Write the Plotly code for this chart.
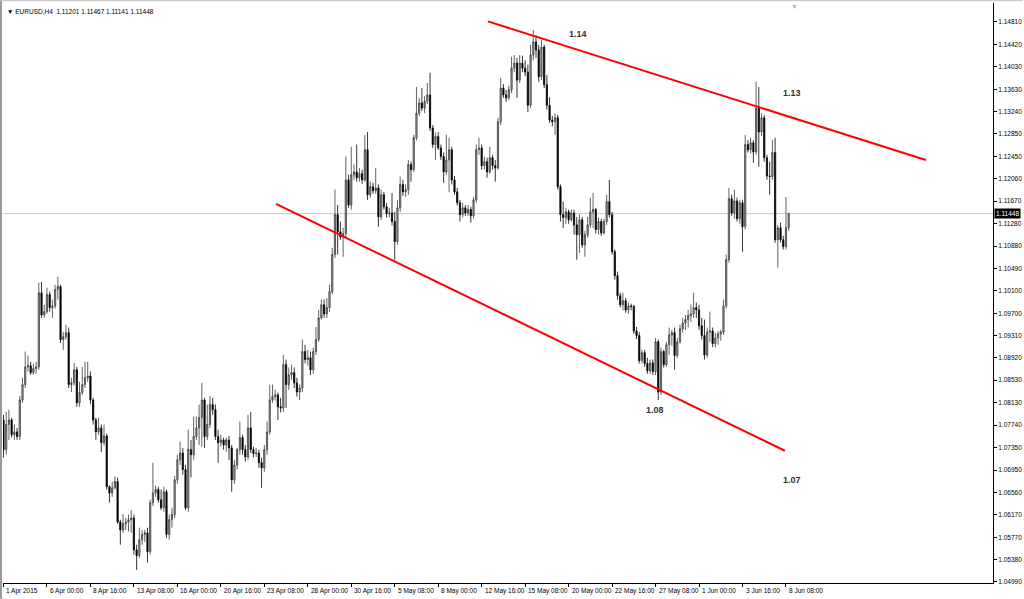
import plotly.graph_objects as go

# ---------------- data (EURUSD, H4) ----------------
opens = [
    1.0783, 1.0731, 1.0775, 1.0783, 1.0757, 1.0762, 1.0754, 1.0818, 1.0845, 1.0876,
    1.0878, 1.0866, 1.0873, 1.0876, 1.1006, 1.0967, 1.0973, 1.1003, 1.0980, 1.0983,
    1.1012, 1.1017, 1.0924, 1.0929, 1.0936, 1.0845, 1.0848, 1.0871, 1.0813, 1.0831,
    1.0845, 1.0857, 1.0860, 1.0818, 1.0783, 1.0762, 1.0769, 1.0743, 1.0755, 1.0666,
    1.0655, 1.0664, 1.0675, 1.0604, 1.0590, 1.0601, 1.0604, 1.0608, 1.0611, 1.0555,
    1.0545, 1.0573, 1.0582, 1.0585, 1.0552, 1.0638, 1.0655, 1.0661, 1.0643, 1.0629,
    1.0657, 1.0582, 1.0608, 1.0617, 1.0678, 1.0713, 1.0725, 1.0696, 1.0629, 1.0731,
    1.0722, 1.0754, 1.0769, 1.0787, 1.0818, 1.0754, 1.0775, 1.0810, 1.0801, 1.0754,
    1.0743, 1.0748, 1.0739, 1.0748, 1.0734, 1.0678, 1.0704, 1.0731, 1.0752, 1.0731,
    1.0718, 1.0769, 1.0731, 1.0724, 1.0725, 1.0708, 1.0699, 1.0731, 1.0762, 1.0818,
    1.0824, 1.0827, 1.0806, 1.0804, 1.0880, 1.0845, 1.0862, 1.0866, 1.0848, 1.0832,
    1.0839, 1.0903, 1.0889, 1.0892, 1.0871, 1.0903, 1.0924, 1.0962, 1.0985, 1.0969,
    1.0980, 1.1008, 1.1073, 1.1143, 1.1113, 1.1104, 1.1110, 1.1204, 1.1160, 1.1213,
    1.1218, 1.1208, 1.1215, 1.1204, 1.1257, 1.1178, 1.1192, 1.1185, 1.1190, 1.1139,
    1.1178, 1.1157, 1.1145, 1.1146, 1.1131, 1.1096, 1.1155, 1.1196, 1.1183, 1.1187,
    1.1231, 1.1222, 1.1278, 1.1321, 1.1339, 1.1330, 1.1342, 1.1353, 1.1295, 1.1266,
    1.1280, 1.1260, 1.1245, 1.1218, 1.1239, 1.1257, 1.1204, 1.1183, 1.1164, 1.1143,
    1.1155, 1.1146, 1.1152, 1.1141, 1.1169, 1.1257, 1.1260, 1.1229, 1.1236, 1.1218,
    1.1243, 1.1229, 1.1225, 1.1306, 1.1365, 1.1353, 1.1348, 1.1362, 1.1400, 1.1409,
    1.1379, 1.1409, 1.1400, 1.1393, 1.1335, 1.1423, 1.1446, 1.1432, 1.1385, 1.1437,
    1.1371, 1.1335, 1.1309, 1.1306, 1.1313, 1.1192, 1.1143, 1.1138, 1.1148, 1.1134,
    1.1146, 1.1125, 1.1108, 1.1134, 1.1090, 1.1108, 1.1125, 1.1148, 1.1152, 1.1117,
    1.1131, 1.1111, 1.1131, 1.1166, 1.1143, 1.1078, 1.1036, 1.1001, 1.0985, 1.0992,
    1.0976, 1.0983, 1.0982, 1.0939, 1.0931, 1.0887, 1.0901, 1.0882, 1.0869, 1.0883,
    1.0868, 1.0920, 1.0832, 1.0903, 1.0880, 1.0915, 1.0932, 1.0936, 1.0896, 1.0920,
    1.0943, 1.0953, 1.0959, 1.0966, 1.0969, 1.0980, 1.0976, 1.0948, 1.0931, 1.0897,
    1.0937, 1.0939, 1.0917, 1.0927, 1.0934, 1.0937, 1.0983, 1.1064, 1.1171, 1.1146,
    1.1167, 1.1136, 1.1164, 1.1122, 1.1266, 1.1257, 1.1269, 1.1253, 1.1330, 1.1288,
    1.1313, 1.1243, 1.1211, 1.1210, 1.1252, 1.1099, 1.1120, 1.1099, 1.1087, 1.11201,
]
highs = [
    1.0792, 1.0797, 1.0801, 1.0787, 1.0775, 1.0769, 1.0825, 1.0857, 1.0903, 1.0896,
    1.0885, 1.0882, 1.0885, 1.1024, 1.1025, 1.0985, 1.1015, 1.1008, 1.0994, 1.1020,
    1.1034, 1.1020, 1.0937, 1.0950, 1.0945, 1.0857, 1.0883, 1.0876, 1.0850, 1.0876,
    1.0885, 1.0885, 1.0868, 1.0822, 1.0787, 1.0787, 1.0775, 1.0775, 1.0759, 1.0668,
    1.0675, 1.0684, 1.0682, 1.0608, 1.0618, 1.0611, 1.0617, 1.0625, 1.0617, 1.0564,
    1.0594, 1.0590, 1.0590, 1.0594, 1.0643, 1.0708, 1.0668, 1.0666, 1.0661, 1.0666,
    1.0661, 1.0617, 1.0629, 1.0685, 1.0722, 1.0745, 1.0734, 1.0704, 1.0766, 1.0748,
    1.0789, 1.0789, 1.0810, 1.0848, 1.0822, 1.0810, 1.0825, 1.0822, 1.0810, 1.0766,
    1.0757, 1.0752, 1.0752, 1.0755, 1.0739, 1.0713, 1.0734, 1.0780, 1.0757, 1.0739,
    1.0792, 1.0797, 1.0736, 1.0734, 1.0731, 1.0717, 1.0739, 1.0780, 1.0845, 1.0845,
    1.0836, 1.0831, 1.0822, 1.0897, 1.0889, 1.0875, 1.0880, 1.0875, 1.0857, 1.0845,
    1.0924, 1.0915, 1.0906, 1.0903, 1.0910, 1.0946, 1.0976, 1.0994, 1.0994, 1.0997,
    1.1020, 1.1085, 1.1187, 1.1160, 1.1131, 1.1120, 1.1245, 1.1213, 1.1262, 1.1231,
    1.1266, 1.1225, 1.1222, 1.1283, 1.1288, 1.1201, 1.1199, 1.1225, 1.1196, 1.1187,
    1.1183, 1.1164, 1.1155, 1.1181, 1.1148, 1.1169, 1.1210, 1.1204, 1.1196, 1.1239,
    1.1236, 1.1283, 1.1367, 1.1348, 1.1365, 1.1351, 1.1374, 1.1392, 1.1300, 1.1287,
    1.1288, 1.1266, 1.1252, 1.1283, 1.1278, 1.1262, 1.1211, 1.1190, 1.1169, 1.1164,
    1.1160, 1.1160, 1.1157, 1.1174, 1.1266, 1.1278, 1.1266, 1.1245, 1.1243, 1.1262,
    1.1248, 1.1239, 1.1313, 1.1383, 1.1372, 1.1362, 1.1369, 1.1420, 1.1423, 1.1418,
    1.1423, 1.1422, 1.1414, 1.1406, 1.1441, 1.1467, 1.1458, 1.1441, 1.1449, 1.1441,
    1.1388, 1.1349, 1.1316, 1.1321, 1.1318, 1.1196, 1.1166, 1.1155, 1.1152, 1.1152,
    1.1152, 1.1139, 1.1143, 1.1139, 1.1115, 1.1139, 1.1173, 1.1181, 1.1155, 1.1138,
    1.1136, 1.1136, 1.1178, 1.1204, 1.1148, 1.1082, 1.1043, 1.1006, 1.1006, 1.0997,
    1.0989, 1.0987, 1.0985, 1.0946, 1.0937, 1.0906, 1.0906, 1.0892, 1.0889, 1.0889,
    1.0927, 1.0924, 1.0910, 1.0906, 1.0920, 1.0945, 1.0941, 1.0945, 1.0927, 1.0950,
    1.0962, 1.0967, 1.0976, 1.0985, 1.1006, 1.0989, 1.0985, 1.0962, 1.0959, 1.0945,
    1.0973, 1.0945, 1.0936, 1.0939, 1.0941, 1.0994, 1.1073, 1.1190, 1.1178, 1.1187,
    1.1173, 1.1169, 1.1169, 1.1283, 1.1274, 1.1278, 1.1274, 1.1376, 1.1367, 1.1321,
    1.1318, 1.1248, 1.1236, 1.1274, 1.1278, 1.1125, 1.1129, 1.1106, 1.1174, 1.11467,
]
lows = [
    1.0717, 1.0722, 1.0748, 1.0752, 1.0748, 1.0748, 1.0748, 1.0813, 1.0839, 1.0868,
    1.0862, 1.0862, 1.0864, 1.0871, 1.0962, 1.0962, 1.0969, 1.0973, 1.0962, 1.0978,
    1.0994, 1.0918, 1.0906, 1.0924, 1.0839, 1.0832, 1.0843, 1.0806, 1.0806, 1.0827,
    1.0839, 1.0850, 1.0811, 1.0775, 1.0748, 1.0757, 1.0727, 1.0738, 1.0661, 1.0638,
    1.0648, 1.0661, 1.0601, 1.0564, 1.0585, 1.0590, 1.0587, 1.0585, 1.0547, 1.0520,
    1.0541, 1.0564, 1.0569, 1.0533, 1.0547, 1.0632, 1.0648, 1.0638, 1.0625, 1.0622,
    1.0576, 1.0573, 1.0594, 1.0611, 1.0671, 1.0704, 1.0687, 1.0625, 1.0622, 1.0682,
    1.0713, 1.0748, 1.0739, 1.0736, 1.0734, 1.0748, 1.0769, 1.0792, 1.0748, 1.0708,
    1.0736, 1.0731, 1.0727, 1.0713, 1.0657, 1.0671, 1.0696, 1.0722, 1.0722, 1.0710,
    1.0713, 1.0725, 1.0717, 1.0718, 1.0699, 1.0664, 1.0692, 1.0722, 1.0757, 1.0813,
    1.0817, 1.0783, 1.0796, 1.0797, 1.0804, 1.0836, 1.0853, 1.0839, 1.0824, 1.0818,
    1.0832, 1.0882, 1.0878, 1.0862, 1.0864, 1.0897, 1.0920, 1.0959, 1.0962, 1.0962,
    1.0973, 1.1003, 1.1067, 1.1073, 1.1099, 1.1069, 1.1103, 1.1155, 1.1152, 1.1204,
    1.1201, 1.1201, 1.1197, 1.1201, 1.1169, 1.1173, 1.1180, 1.1180, 1.1122, 1.1134,
    1.1152, 1.1138, 1.1138, 1.1124, 1.1064, 1.1090, 1.1148, 1.1176, 1.1174, 1.1178,
    1.1201, 1.1218, 1.1273, 1.1316, 1.1325, 1.1321, 1.1337, 1.1290, 1.1260, 1.1239,
    1.1257, 1.1239, 1.1199, 1.1213, 1.1183, 1.1196, 1.1178, 1.1159, 1.1131, 1.1138,
    1.1141, 1.1141, 1.1129, 1.1136, 1.1164, 1.1248, 1.1222, 1.1222, 1.1208, 1.1215,
    1.1222, 1.1201, 1.1222, 1.1300, 1.1348, 1.1341, 1.1344, 1.1356, 1.1393, 1.1348,
    1.1374, 1.1393, 1.1386, 1.1323, 1.1330, 1.1414, 1.1418, 1.1376, 1.1379, 1.1365,
    1.1327, 1.1304, 1.1298, 1.1283, 1.1187, 1.1131, 1.1120, 1.1127, 1.1127, 1.1131,
    1.1108, 1.1064, 1.1076, 1.1085, 1.1069, 1.1103, 1.1120, 1.1120, 1.1110, 1.1108,
    1.1106, 1.1108, 1.1125, 1.1138, 1.1073, 1.1029, 1.0994, 1.0980, 1.0975, 1.0971,
    1.0969, 1.0975, 1.0934, 1.0925, 1.0882, 1.0882, 1.0876, 1.0864, 1.0864, 1.0862,
    1.0862, 1.0818, 1.0827, 1.0875, 1.0876, 1.0897, 1.0913, 1.0871, 1.0892, 1.0917,
    1.0936, 1.0941, 1.0945, 1.0955, 1.0962, 1.0962, 1.0941, 1.0924, 1.0889, 1.0892,
    1.0920, 1.0911, 1.0910, 1.0915, 1.0922, 1.0932, 1.0978, 1.1059, 1.1141, 1.1136,
    1.1131, 1.1127, 1.1078, 1.1117, 1.1252, 1.1250, 1.1234, 1.1248, 1.1227, 1.1281,
    1.1236, 1.1204, 1.1178, 1.1204, 1.1094, 1.1050, 1.1094, 1.1082, 1.1082, 1.11141,
]
closes = [
    1.0731, 1.0775, 1.0783, 1.0757, 1.0762, 1.0754, 1.0818, 1.0845, 1.0876, 1.0878,
    1.0866, 1.0873, 1.0876, 1.1006, 1.0967, 1.0973, 1.1003, 1.0980, 1.0983, 1.1012,
    1.1017, 1.0924, 1.0929, 1.0936, 1.0845, 1.0848, 1.0871, 1.0813, 1.0831, 1.0845,
    1.0857, 1.0860, 1.0818, 1.0783, 1.0762, 1.0769, 1.0743, 1.0755, 1.0666, 1.0655,
    1.0664, 1.0675, 1.0604, 1.0590, 1.0601, 1.0604, 1.0608, 1.0611, 1.0555, 1.0545,
    1.0573, 1.0582, 1.0585, 1.0552, 1.0638, 1.0655, 1.0661, 1.0643, 1.0629, 1.0657,
    1.0582, 1.0608, 1.0617, 1.0678, 1.0713, 1.0725, 1.0696, 1.0629, 1.0731, 1.0722,
    1.0754, 1.0769, 1.0787, 1.0818, 1.0754, 1.0775, 1.0810, 1.0801, 1.0754, 1.0743,
    1.0748, 1.0739, 1.0748, 1.0734, 1.0678, 1.0704, 1.0731, 1.0752, 1.0731, 1.0718,
    1.0769, 1.0731, 1.0724, 1.0725, 1.0708, 1.0699, 1.0731, 1.0762, 1.0818, 1.0824,
    1.0827, 1.0806, 1.0804, 1.0880, 1.0845, 1.0862, 1.0866, 1.0848, 1.0832, 1.0839,
    1.0903, 1.0889, 1.0892, 1.0871, 1.0903, 1.0924, 1.0962, 1.0985, 1.0969, 1.0980,
    1.1008, 1.1073, 1.1143, 1.1113, 1.1104, 1.1110, 1.1204, 1.1160, 1.1213, 1.1218,
    1.1208, 1.1215, 1.1204, 1.1257, 1.1178, 1.1192, 1.1185, 1.1190, 1.1139, 1.1178,
    1.1157, 1.1145, 1.1146, 1.1131, 1.1096, 1.1155, 1.1196, 1.1183, 1.1187, 1.1231,
    1.1222, 1.1278, 1.1321, 1.1339, 1.1330, 1.1342, 1.1353, 1.1295, 1.1266, 1.1280,
    1.1260, 1.1245, 1.1218, 1.1239, 1.1257, 1.1204, 1.1183, 1.1164, 1.1143, 1.1155,
    1.1146, 1.1152, 1.1141, 1.1169, 1.1257, 1.1260, 1.1229, 1.1236, 1.1218, 1.1243,
    1.1229, 1.1225, 1.1306, 1.1365, 1.1353, 1.1348, 1.1362, 1.1400, 1.1409, 1.1379,
    1.1409, 1.1400, 1.1393, 1.1335, 1.1423, 1.1446, 1.1432, 1.1385, 1.1437, 1.1371,
    1.1335, 1.1309, 1.1306, 1.1313, 1.1192, 1.1143, 1.1138, 1.1148, 1.1134, 1.1146,
    1.1125, 1.1108, 1.1134, 1.1090, 1.1108, 1.1125, 1.1148, 1.1152, 1.1117, 1.1131,
    1.1111, 1.1131, 1.1166, 1.1143, 1.1078, 1.1036, 1.1001, 1.0985, 1.0992, 1.0976,
    1.0983, 1.0982, 1.0939, 1.0931, 1.0887, 1.0901, 1.0882, 1.0869, 1.0883, 1.0868,
    1.0920, 1.0832, 1.0903, 1.0880, 1.0915, 1.0932, 1.0936, 1.0896, 1.0920, 1.0943,
    1.0953, 1.0959, 1.0966, 1.0969, 1.0980, 1.0976, 1.0948, 1.0931, 1.0897, 1.0937,
    1.0939, 1.0917, 1.0927, 1.0934, 1.0937, 1.0983, 1.1064, 1.1171, 1.1146, 1.1167,
    1.1136, 1.1164, 1.1122, 1.1266, 1.1257, 1.1269, 1.1253, 1.1330, 1.1288, 1.1313,
    1.1243, 1.1211, 1.1210, 1.1252, 1.1099, 1.1120, 1.1099, 1.1087, 1.11201, 1.11448,
]

# bar index of each time label (one label every 16 H4 bars)
time_label_bars = [0, 16, 32, 48, 64, 80, 96, 112, 128, 144, 160, 176, 192, 208, 224, 240, 256, 272, 288]
time_labels = ["1 Apr 2015", "6 Apr 00:00", "8 Apr 16:00", "13 Apr 08:00", "16 Apr 00:00",
               "20 Apr 16:00", "23 Apr 08:00", "28 Apr 00:00", "30 Apr 16:00", "5 May 08:00",
               "8 May 00:00", "12 May 16:00", "15 May 08:00", "20 May 00:00", "22 May 16:00",
               "27 May 08:00", "1 Jun 00:00", "3 Jun 16:00", "8 Jun 08:00"]

price_ticks = [1.14810, 1.14420, 1.14030, 1.13630, 1.13240, 1.12850, 1.12450, 1.12060,
               1.11670, 1.11280, 1.10880, 1.10490, 1.10100, 1.09700, 1.09310, 1.08920,
               1.08530, 1.08130, 1.07740, 1.07350, 1.06950, 1.06560, 1.06170, 1.05770,
               1.05380, 1.04990]

# channel trend lines (bar index, price)
upper_line_x = [178.3, 339.5]
upper_line_y = [1.1482, 1.1239]
lower_line_x = [100.3, 287.6]
lower_line_y = [1.1162, 1.0729]

# level labels (bar index, price, text)
level_x = [211.4, 290.2, 239.8, 290.2]
level_y = [1.1460, 1.1356, 1.0801, 1.0678]
level_text = ["1.14", "1.13", "1.08", "1.07"]

symbol = "EURUSD,H4"
shift_marker_bar = 291.3

# ---------------- figure ----------------
bars = list(range(len(closes)))
FONT = "Liberation Sans"

fig = go.Figure()
fig.add_trace(go.Candlestick(
    x=bars, open=opens, high=highs, low=lows, close=closes,
    increasing=dict(line=dict(color="#3a3a3a", width=0.8), fillcolor="#a8a8a8"),
    decreasing=dict(line=dict(color="#000000", width=0.8), fillcolor="#000000"),
    whiskerwidth=0, hoverinfo="skip", showlegend=False,
))
fig.add_trace(go.Scatter(x=upper_line_x, y=upper_line_y, mode="lines",
                         line=dict(color="#ff0000", width=2), hoverinfo="skip", showlegend=False))
fig.add_trace(go.Scatter(x=lower_line_x, y=lower_line_y, mode="lines",
                         line=dict(color="#ff0000", width=2), hoverinfo="skip", showlegend=False))

# last price line
fig.add_shape(type="line", xref="paper", x0=0, x1=1, y0=closes[-1], y1=closes[-1],
              line=dict(color="#c8c8c8", width=1), layer="below")

annotations = []
for b, t in zip(time_label_bars, time_labels):
    annotations.append(dict(x=b, y=0, xref="x", yref="paper", text=t, showarrow=False,
                            xanchor="left", yanchor="top", xshift=1, yshift=-2,
                            font=dict(family=FONT, size=6.5, color="#000000")))
for x, y, t in zip(level_x, level_y, level_text):
    annotations.append(dict(x=x, y=y, xref="x", yref="y", text="<b>%s</b>" % t, showarrow=False,
                            font=dict(family=FONT, size=9, color="#333333")))
annotations.append(dict(x=1, y=closes[-1], xref="paper", yref="y", text="%.5f" % closes[-1],
                        showarrow=False, xanchor="left", xshift=1, bgcolor="#000000",
                        borderpad=1, font=dict(family=FONT, size=6.5, color="#ffffff")))
annotations.append(dict(x=0, y=1, xref="paper", yref="paper",
                        text="▼ %s  %.5f %.5f %.5f %.5f" % (symbol, opens[-1], highs[-1], lows[-1], closes[-1]),
                        showarrow=False, xanchor="left", yanchor="top", xshift=2, yshift=-3,
                        font=dict(family=FONT, size=6.5, color="#000000")))
annotations.append(dict(x=shift_marker_bar, y=1, xref="x", yref="paper", text="▼", showarrow=False,
                        yanchor="top", yshift=2, font=dict(family=FONT, size=7, color="#b0b0b0")))

fig.update_layout(
    width=1024, height=599,
    margin=dict(l=3, r=31, t=3, b=16),
    paper_bgcolor="#ffffff", plot_bgcolor="#ffffff",
    showlegend=False, boxgap=0.35,
    annotations=annotations,
    xaxis=dict(range=[-0.18, 364.2], showgrid=False, zeroline=False, rangeslider=dict(visible=False),
               tickmode="array", tickvals=time_label_bars, showticklabels=False,
               ticks="outside", ticklen=3, tickcolor="#000000",
               showline=True, linecolor="#000000", linewidth=1, mirror=False),
    yaxis=dict(range=[1.04970, 1.15143], side="right", showgrid=False, zeroline=False,
               tickmode="array", tickvals=price_ticks, ticktext=["%.5f" % v for v in price_ticks],
               ticks="outside", ticklen=3, tickcolor="#000000",
               tickfont=dict(family=FONT, size=6.5, color="#000000"),
               showline=True, linecolor="#000000", linewidth=1),
)

# window frame edges
fig.add_shape(type="line", xref="paper", yref="paper", x0=-0.002, x1=-0.002, y0=-0.03, y1=1.006,
              line=dict(color="#9a9a9a", width=2))
fig.add_shape(type="line", xref="paper", yref="paper", x0=-0.003, x1=1.03, y0=1.004, y1=1.004,
              line=dict(color="#c0c0c0", width=1))

fig.write_html(
    "out.html",
    config={"displayModeBar": False},
    post_script="document.body.style.margin='0';document.body.style.overflow='hidden';",
)
